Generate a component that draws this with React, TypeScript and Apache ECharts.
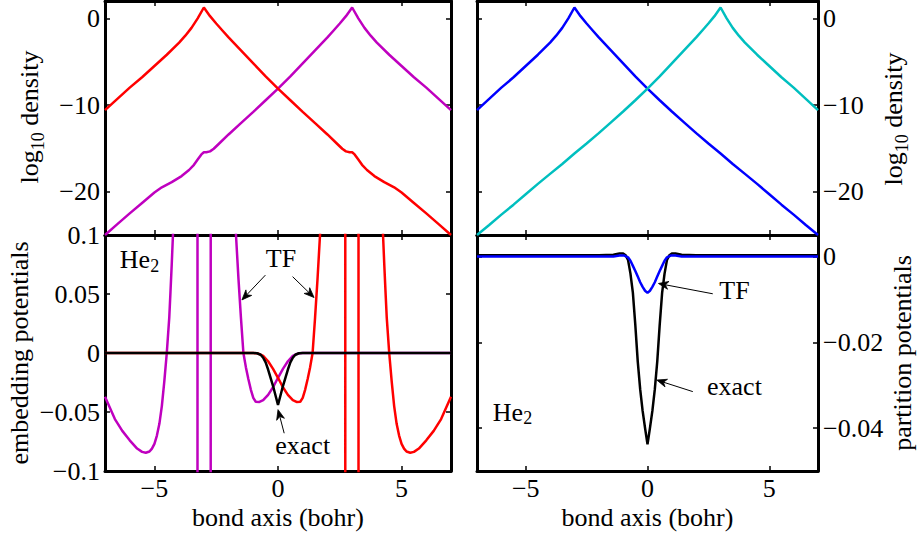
import React, { useEffect, useRef } from 'react';
import * as echarts from 'echarts';

type Pt = [number, number];

const FONT = '"Liberation Serif", "Times New Roman", serif';

// Axis ranges and tick positions
const bondRange: Pt = [-7, 7];
const bondTicks = [-5, 0, 5];
const densityRange: Pt = [-25, 2];
const densityTicks = [-20, -10, 0];
const embeddingRange: Pt = [-0.1, 0.1];
const embeddingTicks = [-0.1, -0.05, 0, 0.05, 0.1];
const partitionRange: Pt = [-0.05, 0.005];
const partitionTicks = [-0.04, -0.02, 0];

// log10 fragment densities, TF partitioning (left panel)
const densityTFLeft: Pt[] = [
  [-7, -10.6], [-6.5, -9.3], [-6, -8.0], [-5.5, -6.8], [-5, -5.5], [-4.5, -4.2], [-4, -2.8],
  [-3.75, -2.0], [-3.5, -1.1], [-3.25, 0.0], [-3, 1.25], [-2.75, 0.25], [-2.5, -0.6], [-2.25, -1.4],
  [-2, -2.2], [-1.5, -3.7], [-1, -5.2], [-0.5, -6.7], [0, -8.1], [0.5, -9.45], [1, -10.8],
  [1.5, -12.1], [2, -13.4], [2.4, -14.5], [2.6, -15.05], [2.75, -15.35], [2.9, -15.45], [3.0, -15.45],
  [3.1, -15.7], [3.25, -16.3], [3.4, -16.9], [3.6, -17.5], [3.9, -18.2], [4.3, -18.9], [4.7, -19.5],
  [5, -20.1], [5.5, -21.3], [6, -22.5], [6.5, -23.75], [7, -25.0],
];
const densityTFRight: Pt[] = [
  [-7, -25.0], [-6.5, -23.75], [-6, -22.5], [-5.5, -21.3], [-5, -20.1], [-4.7, -19.5], [-4.3, -18.9],
  [-3.9, -18.2], [-3.6, -17.5], [-3.4, -16.9], [-3.25, -16.3], [-3.1, -15.7], [-3.0, -15.45],
  [-2.9, -15.45], [-2.75, -15.35], [-2.6, -15.05], [-2.4, -14.5], [-2, -13.4], [-1.5, -12.1],
  [-1, -10.8], [-0.5, -9.45], [0, -8.1], [0.5, -6.7], [1, -5.2], [1.5, -3.7], [2, -2.2], [2.25, -1.4],
  [2.5, -0.6], [2.75, 0.25], [3, 1.25], [3.25, 0.0], [3.5, -1.1], [3.75, -2.0], [4, -2.8], [4.5, -4.2],
  [5, -5.5], [5.5, -6.8], [6, -8.0], [6.5, -9.3], [7, -10.6],
];

// log10 fragment densities, exact partitioning (right panel)
const densityExactLeft: Pt[] = [
  [-7, -10.6], [-6.5, -9.3], [-6, -8.0], [-5.5, -6.8], [-5, -5.5], [-4.5, -4.2], [-4, -2.8],
  [-3.75, -2.0], [-3.5, -1.1], [-3.25, 0.0], [-3, 1.25], [-2.75, 0.25], [-2.5, -0.6], [-2.25, -1.4],
  [-2, -2.2], [-1.5, -3.7], [-1, -5.2], [-0.5, -6.7], [0, -8.1], [0.5, -9.45], [1, -10.75],
  [1.5, -12.0], [2, -13.25], [2.5, -14.45], [3, -15.6], [3.5, -16.8], [4, -17.95], [4.5, -19.1],
  [5, -20.3], [5.5, -21.5], [6, -22.65], [6.5, -23.85], [7, -25.0],
];
const densityExactRight: Pt[] = [
  [-7, -25.0], [-6.5, -23.85], [-6, -22.65], [-5.5, -21.5], [-5, -20.3], [-4.5, -19.1], [-4, -17.95],
  [-3.5, -16.8], [-3, -15.6], [-2.5, -14.45], [-2, -13.25], [-1.5, -12.0], [-1, -10.75], [-0.5, -9.45],
  [0, -8.1], [0.5, -6.7], [1, -5.2], [1.5, -3.7], [2, -2.2], [2.25, -1.4], [2.5, -0.6], [2.75, 0.25],
  [3, 1.25], [3.25, 0.0], [3.5, -1.1], [3.75, -2.0], [4, -2.8], [4.5, -4.2], [5, -5.5], [5.5, -6.8],
  [6, -8.0], [6.5, -9.3], [7, -10.6],
];

// TF embedding potentials (values beyond the axis run off-scale near the nuclei)
const embeddingTFLeft: Pt[] = [
  [-7, -0.037], [-6.6, -0.056], [-6.3, -0.066], [-6.0, -0.074], [-5.7, -0.081], [-5.5, -0.0838],
  [-5.35, -0.0845], [-5.2, -0.0835], [-5.1, -0.081], [-5.0, -0.077], [-4.9, -0.07], [-4.8, -0.06],
  [-4.7, -0.045], [-4.6, -0.024], [-4.5, 0.0], [-4.4, 0.03], [-4.35, 0.052], [-4.3, 0.075],
  [-4.25, 0.1], [-4.2, 0.14], [-4.1, 0.22], [-3.8, 0.6], [-3.4, 2.0], [-3.26, 10], [-3.255, -10],
  [-2.725, -10], [-2.72, 10], [-2.6, 2.0], [-2.4, 0.6], [-2.0, 0.25], [-1.8, 0.14], [-1.7, 0.1],
  [-1.6, 0.063], [-1.5, 0.03], [-1.4, 0.0], [-1.3, -0.012], [-1.2, -0.022], [-1.1, -0.031],
  [-1.0, -0.038], [-0.9, -0.0413], [-0.75, -0.0415], [-0.6, -0.04], [-0.4, -0.0355], [-0.2, -0.029],
  [0, -0.021], [0.2, -0.0135], [0.4, -0.007], [0.6, -0.0025], [0.8, -0.0005], [1.0, 0], [7, 0],
];
const embeddingTFRight: Pt[] = [
  [-7, 0], [-1.0, 0], [-0.8, -0.0005], [-0.6, -0.0025], [-0.4, -0.007], [-0.2, -0.0135], [0, -0.021],
  [0.2, -0.029], [0.4, -0.0355], [0.6, -0.04], [0.75, -0.0415], [0.9, -0.0413], [1.0, -0.038],
  [1.1, -0.031], [1.2, -0.022], [1.3, -0.012], [1.4, 0.0], [1.5, 0.03], [1.6, 0.063], [1.7, 0.1],
  [1.8, 0.14], [2.0, 0.25], [2.4, 0.6], [2.6, 2.0], [2.72, 10], [2.725, -10], [3.255, -10],
  [3.26, 10], [3.4, 2.0], [3.8, 0.6], [4.1, 0.22], [4.2, 0.14], [4.25, 0.1], [4.3, 0.075],
  [4.35, 0.052], [4.4, 0.03], [4.5, 0.0], [4.6, -0.024], [4.7, -0.045], [4.8, -0.06], [4.9, -0.07],
  [5.0, -0.077], [5.1, -0.081], [5.2, -0.0835], [5.35, -0.0845], [5.5, -0.0838], [5.7, -0.081],
  [6.0, -0.074], [6.3, -0.066], [6.6, -0.056], [7, -0.037],
];
const embeddingExact: Pt[] = [
  [-7, 0], [-1.0, 0], [-0.85, -0.0002], [-0.7, -0.0015], [-0.6, -0.004], [-0.5, -0.008],
  [-0.4, -0.014], [-0.3, -0.021], [-0.2, -0.028], [-0.1, -0.036], [0, -0.044], [0.1, -0.036],
  [0.2, -0.028], [0.3, -0.021], [0.4, -0.014], [0.5, -0.008], [0.6, -0.004], [0.7, -0.0015],
  [0.85, -0.0002], [1.0, 0], [7, 0],
];

// Partition potentials
const partitionExact: Pt[] = [
  [-7, 0.0003], [-2, 0.0003], [-1.4, 0.0004], [-1.15, 0.0007], [-1.0, 0.0007], [-0.9, 0.0003],
  [-0.8, -0.0008], [-0.7, -0.004], [-0.6, -0.0085], [-0.5, -0.016], [-0.4, -0.0245], [-0.3, -0.031],
  [-0.2, -0.036], [-0.1, -0.04], [0, -0.0438], [0.1, -0.04], [0.2, -0.036], [0.3, -0.031],
  [0.4, -0.0245], [0.5, -0.016], [0.6, -0.0085], [0.7, -0.004], [0.8, -0.0008], [0.9, 0.0003],
  [1.0, 0.0007], [1.15, 0.0007], [1.4, 0.0004], [2, 0.0003], [7, 0.0003],
];
const partitionTF: Pt[] = [
  [-7, 0], [-1.4, 0], [-1.15, 0.0002], [-0.95, 0.0002], [-0.8, -0.0002], [-0.7, -0.001],
  [-0.6, -0.0022], [-0.5, -0.0034], [-0.4, -0.0047], [-0.3, -0.006], [-0.2, -0.0071], [-0.1, -0.008],
  [0, -0.0085], [0.1, -0.008], [0.2, -0.0071], [0.3, -0.006], [0.4, -0.0047], [0.5, -0.0034],
  [0.6, -0.0022], [0.7, -0.001], [0.8, -0.0002], [0.95, 0.0002], [1.15, 0.0002], [1.4, 0], [7, 0],
];

// Text annotations and arrows, in data coordinates of their panel
const notes = [
  { grid: 2, text: 'TF', at: [0.12, 0.0805] as Pt },
  { grid: 2, text: 'exact', at: [1.0, -0.078] as Pt },
  { grid: 3, text: 'TF', at: [3.57, -0.008] as Pt },
  { grid: 3, text: 'exact', at: [3.57, -0.0304] as Pt },
];
const arrows = [
  { grid: 2, from: [-0.51, 0.066] as Pt, to: [-1.46, 0.045] as Pt },
  { grid: 2, from: [0.59, 0.0647] as Pt, to: [1.46, 0.047] as Pt },
  { grid: 2, from: [0.25, -0.068] as Pt, to: [0.0, -0.048] as Pt },
  { grid: 3, from: [2.68, -0.0087] as Pt, to: [0.45, -0.0063] as Pt },
  { grid: 3, from: [1.86, -0.0315] as Pt, to: [0.38, -0.0288] as Pt },
];
const moleculeTags = [
  { grid: 2, at: [-6.4, 0.079] as Pt },
  { grid: 3, at: [-6.35, -0.0363] as Pt },
];

const COLORS = {
  red: '#ff0000',
  purple: '#bf00bf',
  blue: '#0000ff',
  cyan: '#00bfbf',
  black: '#000000',
};

const GRIDS = [
  { left: 105, top: 1, width: 346, height: 234 },
  { left: 477, top: 1, width: 341, height: 234 },
  { left: 105, top: 235, width: 346, height: 236 },
  { left: 477, top: 235, width: 341, height: 236 },
];

const FRAME_WIDTH = 3;

const tickText = (v: number) => String(Math.round(v * 1000) / 1000).replace('-', '\u2212');

const labelStyle = { fontFamily: FONT, fontSize: 26, color: '#000' };

function xAxesFor(grid: number, labelled: boolean) {
  const base = {
    gridIndex: grid,
    type: 'value',
    min: bondRange[0],
    max: bondRange[1],
    axisLine: { show: true, onZero: false, lineStyle: { color: '#000', width: FRAME_WIDTH } },
    axisTick: { show: true, inside: true, length: 5, customValues: bondTicks, lineStyle: { color: '#000', width: 1.5 } },
    splitLine: { show: false },
  };
  return [
    { ...base, position: 'bottom', axisLabel: { show: labelled, customValues: bondTicks, formatter: tickText, margin: 4, ...labelStyle } },
    { ...base, position: 'top', axisLabel: { show: false } },
  ];
}

function yAxesFor(grid: number, range: Pt, ticks: number[], labelSide: 'left' | 'right') {
  const base = {
    gridIndex: grid,
    type: 'value',
    min: range[0],
    max: range[1],
    axisLine: { show: true, onZero: false, lineStyle: { color: '#000', width: FRAME_WIDTH } },
    axisTick: { show: true, inside: true, length: 5, customValues: ticks, lineStyle: { color: '#000', width: 1.5 } },
    splitLine: { show: false },
  };
  return (['left', 'right'] as const).map((side) => ({
    ...base,
    position: side,
    axisLabel: side === labelSide
      ? { show: true, customValues: ticks, formatter: tickText, margin: 5, ...labelStyle }
      : { show: false },
  }));
}

function curve(data: Pt[], color: string, grid: number, z: number) {
  return {
    type: 'line',
    data,
    xAxisIndex: 2 * grid,
    yAxisIndex: 2 * grid,
    showSymbol: false,
    symbol: 'none',
    clip: true,
    silent: true,
    z,
    lineStyle: { color, width: 2.5 },
    itemStyle: { color },
  };
}

function arrowShapes(p0: number[], p1: number[]) {
  const dx = p1[0] - p0[0];
  const dy = p1[1] - p0[1];
  const len = Math.hypot(dx, dy) || 1;
  const ux = dx / len;
  const uy = dy / len;
  const nx = -uy;
  const ny = ux;
  const headLen = 10;
  const headW = 4;
  const bx = p1[0] - ux * headLen;
  const by = p1[1] - uy * headLen;
  const notchX = p1[0] - ux * headLen * 0.7;
  const notchY = p1[1] - uy * headLen * 0.7;
  return [
    {
      type: 'line',
      shape: { x1: p0[0], y1: p0[1], x2: notchX, y2: notchY },
      style: { stroke: '#000', lineWidth: 1 },
      z: 100,
    },
    {
      type: 'polygon',
      shape: {
        points: [
          [p1[0], p1[1]],
          [bx + nx * headW, by + ny * headW],
          [notchX, notchY],
          [bx - nx * headW, by - ny * headW],
        ],
      },
      style: { fill: '#000', stroke: '#000', lineWidth: 0.8 },
      z: 100,
    },
  ];
}

function subscripted(main: string, sub: string, lineHeight: number) {
  return {
    text: `{m|${main}}{s|${sub}}`,
    rich: {
      m: { fontFamily: FONT, fontSize: 26, lineHeight, fill: '#000' },
      s: { fontFamily: FONT, fontSize: 18, lineHeight: 18, verticalAlign: 'bottom', fill: '#000' },
    },
  };
}

function axisTitle(x: number, y: number, content: string, sub?: string, tail?: string) {
  const style: any = sub
    ? {
        text: `{m|${content}}{s|${sub}}{m|${tail}}`,
        rich: {
          m: { fontFamily: FONT, fontSize: 26, lineHeight: 36, fill: '#000' },
          s: { fontFamily: FONT, fontSize: 18, lineHeight: 18, verticalAlign: 'bottom', fill: '#000' },
        },
      }
    : { text: content, fontFamily: FONT, fontSize: 26 };
  return {
    type: 'text',
    x,
    y,
    rotation: Math.PI / 2,
    z: 100,
    style: { ...style, fill: '#000', align: 'center', verticalAlign: 'middle' },
  };
}

export default function App() {
  const ref = useRef<HTMLDivElement>(null);

  useEffect(() => {
    if (!ref.current) return;
    const chart = echarts.init(ref.current, undefined, { renderer: 'svg' });

    const option: any = {
      animation: false,
      backgroundColor: '#ffffff',
      grid: GRIDS.map((g) => ({ ...g, containLabel: false })),
      xAxis: [
        ...xAxesFor(0, false),
        ...xAxesFor(1, false),
        ...xAxesFor(2, true),
        ...xAxesFor(3, true),
      ],
      yAxis: [
        ...yAxesFor(0, densityRange, densityTicks, 'left'),
        ...yAxesFor(1, densityRange, densityTicks, 'right'),
        ...yAxesFor(2, embeddingRange, embeddingTicks, 'left'),
        ...yAxesFor(3, partitionRange, partitionTicks, 'right'),
      ],
      series: [
        curve(densityTFRight, COLORS.purple, 0, 2),
        curve(densityTFLeft, COLORS.red, 0, 3),
        curve(densityExactLeft, COLORS.blue, 1, 2),
        curve(densityExactRight, COLORS.cyan, 1, 3),
        curve(embeddingTFLeft, COLORS.purple, 2, 2),
        curve(embeddingTFRight, COLORS.red, 2, 3),
        curve(embeddingExact, COLORS.black, 2, 4),
        curve(partitionExact, COLORS.black, 3, 2),
        curve(partitionTF, COLORS.blue, 3, 3),
      ],
    };
    chart.setOption(option);

    const toPx = (grid: number, p: Pt) =>
      chart.convertToPixel({ xAxisIndex: 2 * grid, yAxisIndex: 2 * grid } as any, p) as unknown as number[];

    const graphics: any[] = [];
    notes.forEach((n) => {
      const p = toPx(n.grid, n.at);
      graphics.push({
        type: 'text',
        x: p[0],
        y: p[1],
        z: 100,
        style: { text: n.text, fontFamily: FONT, fontSize: 26, fill: '#000', align: 'center', verticalAlign: 'middle' },
      });
    });
    arrows.forEach((a) => {
      graphics.push(...arrowShapes(toPx(a.grid, a.from), toPx(a.grid, a.to)));
    });
    moleculeTags.forEach((m) => {
      const p = toPx(m.grid, m.at);
      graphics.push({
        type: 'text',
        x: p[0],
        y: p[1],
        z: 100,
        style: { ...subscripted('He', '2', 30), align: 'left', verticalAlign: 'middle' },
      });
    });

    // Axis titles
    GRIDS.slice(2).forEach((g) => {
      graphics.push({
        type: 'text',
        x: g.left + g.width / 2,
        y: 517,
        z: 100,
        style: { text: 'bond axis (bohr)', fontFamily: FONT, fontSize: 26, fill: '#000', align: 'center', verticalAlign: 'middle' },
      });
    });
    graphics.push(axisTitle(29, 117, 'log', '10', ' density'));
    graphics.push(axisTitle(893, 119, 'log', '10', ' density'));
    graphics.push(axisTitle(19, 353, 'embedding potentials'));
    graphics.push(axisTitle(902, 353, 'partition potentials'));

    chart.setOption({ graphic: graphics });

    return () => chart.dispose();
  }, []);

  return <div ref={ref} style={{ position: 'absolute', left: 0, top: 0, width: 917, height: 533 }} />;
}
